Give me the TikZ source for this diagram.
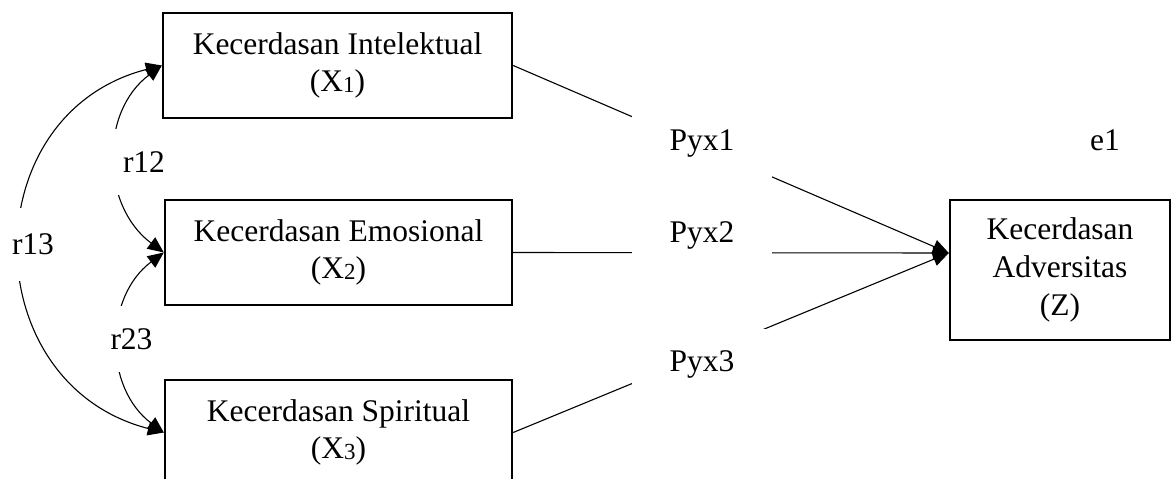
\documentclass[tikz,border=0pt]{standalone}
\usepackage{fontspec}
\setmainfont{Liberation Serif}
\usetikzlibrary{arrows.meta,calc}
\newcommand{\smallsub}[1]{\raisebox{-1pt}{\fontsize{23}{23}\selectfont #1}}
\tikzset{
  varbox/.style={draw, line width=2.4pt, rectangle, align=center, inner sep=0pt,
    font=\fontsize{31.5}{37.8}\selectfont},
  lbl/.style={fill=white, inner sep=0pt, minimum width=137pt,
    font=\fontsize{31.5}{37.8}\selectfont},
  plain/.style={inner sep=0pt, font=\fontsize{31.5}{37.8}\selectfont},
  conn/.style={line width=1.1pt, -{Triangle[length=16pt,width=14pt]}},
  corr/.style={line width=1.1pt, {Triangle[length=16pt,width=14pt]}-{Triangle[length=16pt,width=14pt]}}
}
\begin{document}
\begin{tikzpicture}[x=1pt,y=-1pt]
\clip (0,0) rectangle (1173,479);
\fill[white] (0,0) rectangle (1173,479);
% boxes
\node[varbox, minimum width=349pt, minimum height=105pt] (X1) at (337.5,65.5) {Kecerdasan Intelektual\\(X\smallsub{1})};
\node[varbox, minimum width=347pt, minimum height=105pt] (X2) at (338.5,252.5) {Kecerdasan Emosional\\(X\smallsub{2})};
\node[varbox, minimum width=347pt, minimum height=105pt] (X3) at (338.5,432.5) {Kecerdasan Spiritual\\(X\smallsub{3})};
\node[varbox, minimum width=220pt, minimum height=140pt] (Z) at (1060,270) {Kecerdasan\\Adversitas\\(Z)};
\coordinate (zin) at ($(Z.west)+(0,-17)$);
% path connectors
\draw[conn] (X1.east) -- (zin);
\draw[conn] (X2.east) -- (zin);
\draw[conn] (X3.east) -- (zin);
% correlations
\draw[corr] (X1.west) .. controls +(-62.6,46.5) and +(-62.6,-46.5) .. (X2.west);
\draw[corr] (X2.west) .. controls +(-60,44.6) and +(-60,-44.6) .. (X3.west);
\draw[corr] (X1.west) .. controls +(-189.4,48.6) and +(-189.4,-48.6) .. (X3.west);
% labels (white text boxes)
\node[lbl, minimum width=140pt, minimum height=70pt] (p1) at (702,143) {Pyx1};
\node[lbl, minimum width=140pt, minimum height=70pt] (p2) at (702,235) {Pyx2};
\node[lbl, minimum width=140pt, minimum height=70pt] (p3) at (702,364) {Pyx3};
\node[lbl, minimum height=66pt] (r12) at (144,162) {r12};
\node[lbl, minimum height=73pt] (r13) at (33,244.5) {r13};
\node[lbl, minimum height=66pt] (r23) at (131.5,339) {r23};
\node[plain, anchor=base] (e1) at (1105,150) {e1};
\end{tikzpicture}
\end{document}
